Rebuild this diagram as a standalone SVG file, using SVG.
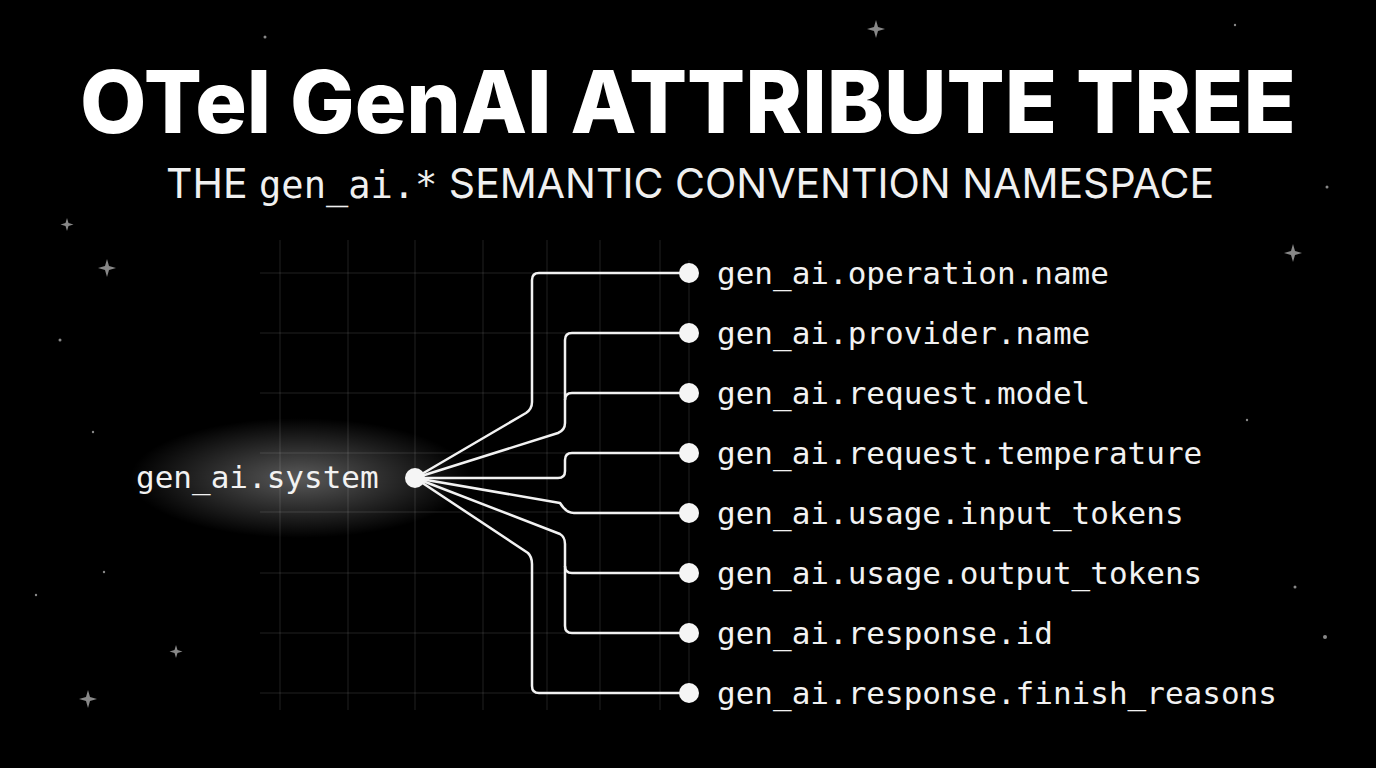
<svg xmlns="http://www.w3.org/2000/svg" width="1376" height="768" viewBox="0 0 1376 768">
<defs>
<style>
.mono{font-family:"DejaVu Sans Mono","Liberation Mono",monospace;fill:#f2f2f2}
.lbl{font-size:31px}
.c{fill:none;stroke:#f2f2f2;stroke-width:2.5;stroke-linejoin:round}
.g{stroke:#fff;stroke-opacity:0.13;stroke-width:1}
.dot{fill:#f5f5f5}
.star{fill:#888}
</style>
<radialGradient id="glow" cx="0.5" cy="0.5" r="0.5">
<stop offset="0" stop-color="#fff" stop-opacity="0.35"/>
<stop offset="1" stop-color="#fff" stop-opacity="0"/>
</radialGradient>
</defs>
<rect width="1376" height="768" fill="#000"/>
<g class="star">
<circle cx="265" cy="37" r="1.5"/><circle cx="1327" cy="187" r="1.5"/><circle cx="60" cy="340" r="1.5"/><circle cx="93" cy="432" r="1.2"/><circle cx="1295" cy="587" r="1.5"/><circle cx="1325" cy="637" r="2"/><circle cx="1247" cy="420" r="1.2"/><circle cx="36" cy="595" r="1.2"/><circle cx="104" cy="572" r="1.2"/><circle cx="1235" cy="25" r="1.2"/>
<path d="M876 20 l2 7 7 2 -7 2 -2 7 -2 -7 -7 -2 7 -2z"/>
<path d="M107 259 l2 7 7 2 -7 2 -2 7 -2 -7 -7 -2 7 -2z"/>
<path d="M1293 244 l2 7 7 2 -7 2 -2 7 -2 -7 -7 -2 7 -2z"/>
<path d="M88 690 l2 7 7 2 -7 2 -2 7 -2 -7 -7 -2 7 -2z"/>
<path d="M67 218 l1.5 5 5 1.5 -5 1.5 -1.5 5 -1.5 -5 -5 -1.5 5 -1.5z"/>
<path d="M176 645 l1.5 5 5 1.5 -5 1.5 -1.5 5 -1.5 -5 -5 -1.5 5 -1.5z"/>
</g>
<g id="grid">
<path class="g" d="M280 240V710M348 240V710M415 240V710M483 240V710M547 240V710M600 240V710M660 240V710M689 260V700M260 273H680M260 333H680M260 393H680M260 453H680M260 512H680M260 573H680M260 633H680M260 693H680"/>
</g>
<text x="688" y="133" text-anchor="middle" font-family="Inter,'Liberation Sans',sans-serif" font-weight="800" font-size="86" fill="#fff">OTel GenAI ATTRIBUTE TREE</text>
<text x="690" y="198" text-anchor="middle" font-family="Inter,'Liberation Sans',sans-serif" font-size="41" fill="#f0f0f0">THE <tspan font-family="'DejaVu Sans Mono',monospace" font-size="37">gen_ai.*</tspan> SEMANTIC CONVENTION NAMESPACE</text>
<g id="connectors">
<path class="c" d="M415 478L526 413Q532 409 532 402V280Q532 273 539 273H689"/>
<path class="c" d="M415 478L558 433Q565 430 565 423V340Q565 333 572 333H689"/>
<path class="c" d="M565 400Q565 393 572 393H689"/>
<path class="c" d="M415 478H558Q565 478 565 471V460Q565 453 572 453H689"/>
<path class="c" d="M415 478L560 503Q566 513 574 513H689"/>
<path class="c" d="M415 478L560 534Q565 537 565 544V626Q565 633 572 633H689"/>
<path class="c" d="M565 566Q565 573 572 573H689"/>
<path class="c" d="M415 478L528 553Q532 557 532 564V686Q532 693 539 693H689"/>
</g>
<g id="root">
<ellipse cx="300" cy="478" rx="170" ry="60" fill="url(#glow)"/>
<circle cx="415" cy="478" r="10" class="dot"/>
<text x="136" y="488" class="mono lbl">gen_ai.system</text>
</g>
<g id="n1"><circle cx="689" cy="273" r="10" class="dot"/><text x="717" y="284" class="mono lbl">gen_ai.operation.name</text></g>
<g id="n2"><circle cx="689" cy="333" r="10" class="dot"/><text x="717" y="344" class="mono lbl">gen_ai.provider.name</text></g>
<g id="n3"><circle cx="689" cy="393" r="10" class="dot"/><text x="717" y="404" class="mono lbl">gen_ai.request.model</text></g>
<g id="n4"><circle cx="689" cy="453" r="10" class="dot"/><text x="717" y="464" class="mono lbl">gen_ai.request.temperature</text></g>
<g id="n5"><circle cx="689" cy="513" r="10" class="dot"/><text x="717" y="524" class="mono lbl">gen_ai.usage.input_tokens</text></g>
<g id="n6"><circle cx="689" cy="573" r="10" class="dot"/><text x="717" y="584" class="mono lbl">gen_ai.usage.output_tokens</text></g>
<g id="n7"><circle cx="689" cy="633" r="10" class="dot"/><text x="717" y="644" class="mono lbl">gen_ai.response.id</text></g>
<g id="n8"><circle cx="689" cy="693" r="10" class="dot"/><text x="717" y="704" class="mono lbl">gen_ai.response.finish_reasons</text></g>
</svg>
